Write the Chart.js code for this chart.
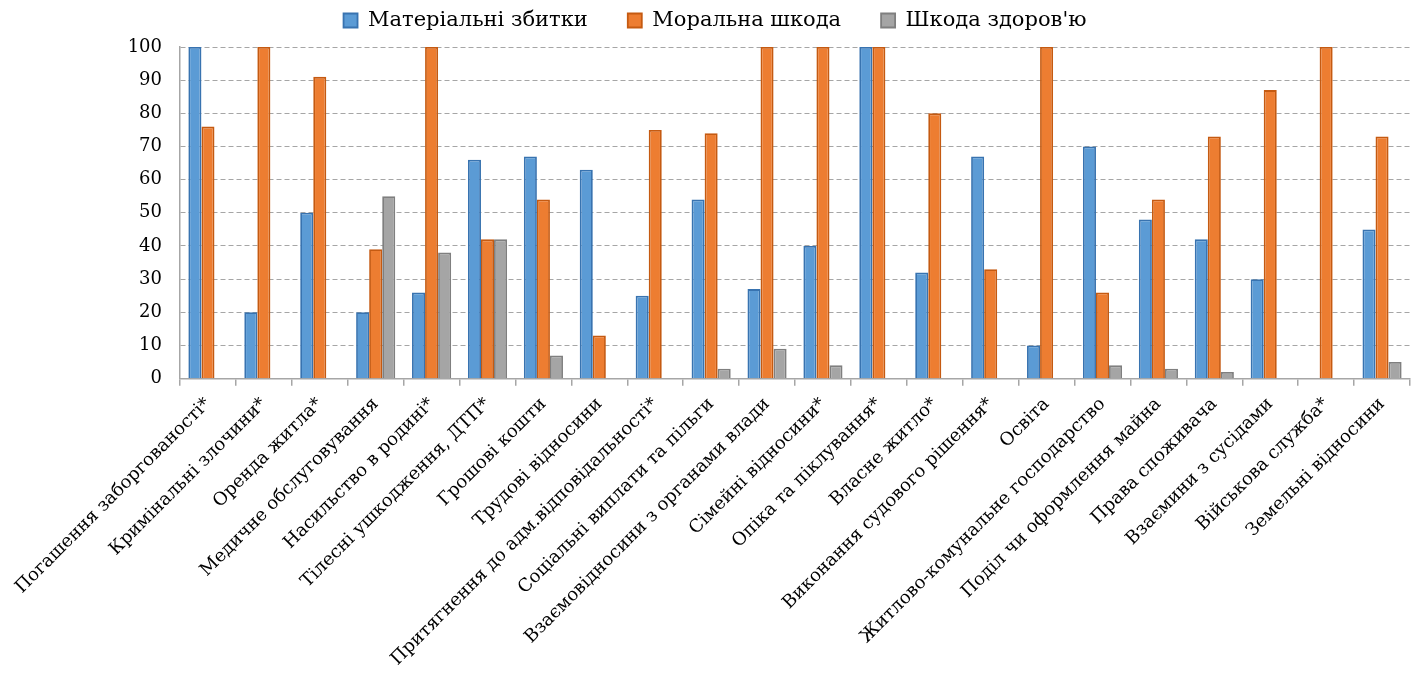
<!DOCTYPE html>
<html lang="uk">
<head>
<meta charset="utf-8">
<title>Види шкоди за категоріями звернень</title>
<script src="https://cdn.jsdelivr.net/npm/chart.js@4/dist/chart.umd.min.js"></script>
<style>
  html, body { margin: 0; padding: 0; background: #fff; }
  #wrap { width: 1416px; height: 675px; position: relative; }
</style>
</head>
<body>
<div id="wrap"><canvas id="harmChart"></canvas></div>
<script>
// Категорії звернень (вісь X)
const categories = [
  "Погашення заборгованості*",
  "Кримінальні злочини*",
  "Оренда житла*",
  "Медичне обслуговування",
  "Насильство в родині*",
  "Тілесні ушкодження, ДТП*",
  "Грошові кошти",
  "Трудові відносини",
  "Притягнення до адм.відповідальності*",
  "Соціальні виплати та пільги",
  "Взаємовідносини з органами влади",
  "Сімейні відносини*",
  "Опіка та піклування*",
  "Власне житло*",
  "Виконання судового рішення*",
  "Освіта",
  "Житлово-комунальне господарство",
  "Поділ чи оформлення майна",
  "Права споживача",
  "Взаємини з сусідами",
  "Військова служба*",
  "Земельні відносини"
];

// Частка (%) за видами шкоди
const materialLoss = [100, 20, 50, 20, 26, 66, 67, 63, 25, 54, 27, 40, 100, 32, 67, 10, 70, 48, 42, 30, 0, 45];
const moralHarm    = [76, 100, 91, 39, 100, 42, 54, 13, 75, 74, 100, 100, 100, 80, 33, 100, 26, 54, 73, 87, 100, 73];
const healthHarm   = [0, 0, 0, 55, 38, 42, 7, 0, 0, 3, 9, 4, 0, 0, 0, 0, 4, 3, 2, 0, 0, 5];

const yTicks = [0, 10, 20, 30, 40, 50, 60, 70, 80, 90, 100];

const seriesNames = ["Матеріальні збитки", "Моральна шкода", "Шкода здоров'ю"];

const FONT = "'DejaVu Serif', 'Liberation Serif', serif";

// трохи більше місця між легендою та областю графіка
const legendGap = {
  id: "legendGap",
  afterInit(chart) {
    const lg = chart.legend;
    if (!lg) return;
    const fit = lg.fit;
    lg.fit = function () {
      fit.call(this);
      this.height += 6;
    };
  }
};

function drawHarmChart() {
  const ctx = document.getElementById("harmChart");
  if (!ctx) return;

  new Chart(ctx, {
    type: "bar",
    plugins: [legendGap],
    data: {
      labels: categories,
      datasets: [
        {
          label: seriesNames[0],
          data: materialLoss,
          backgroundColor: "#5B9BD5",
          borderColor: "#3873B0",
          borderWidth: 1.8
        },
        {
          label: seriesNames[1],
          data: moralHarm,
          backgroundColor: "#ED7D31",
          borderColor: "#C55A11",
          borderWidth: 1.8
        },
        {
          label: seriesNames[2],
          data: healthHarm,
          backgroundColor: "#A5A5A5",
          borderColor: "#7F7F7F",
          borderWidth: 1.8
        }
      ]
    },
    options: {
      responsive: true,
      maintainAspectRatio: false,
      animation: false,
      layout: { padding: { top: -30, right: 6, bottom: -3, left: 20 } },
      datasets: {
        bar: { categoryPercentage: 0.7, barPercentage: 1.0, borderSkipped: "bottom" }
      },
      plugins: {
        tooltip: { enabled: false },
        legend: {
          position: "top",
          labels: {
            color: "#000",
            font: { family: FONT, size: 21 },
            boxWidth: 14,
            boxHeight: 14,
            padding: 40
          }
        }
      },
      scales: {
        x: {
          offset: true,
          grid: {
            display: true,
            offset: true,
            drawOnChartArea: false,
            drawTicks: true,
            tickLength: 7,
            color: "#A6A6A6",
            lineWidth: 1.5
          },
          border: { display: true, color: "#A6A6A6", width: 1.5 },
          ticks: {
            color: "#000",
            font: { family: FONT, size: 18 },
            minRotation: 45,
            maxRotation: 45,
            autoSkip: false,
            padding: 8
          }
        },
        y: {
          min: 0,
          max: 100,
          afterBuildTicks: axis => { axis.ticks = yTicks.map(v => ({ value: v })); },
          afterFit: axis => { axis.width = 160; },
          grid: {
            color: "#A6A6A6",
            lineWidth: 1,
            drawTicks: false
          },
          border: { display: true, color: "#A6A6A6", width: 1.5, dash: [5, 3] },
          ticks: {
            color: "#000",
            font: { family: FONT, size: 18 },
            padding: 18
          }
        }
      }
    }
  });
}

document.addEventListener("DOMContentLoaded", drawHarmChart);
</script>
</body>
</html>
